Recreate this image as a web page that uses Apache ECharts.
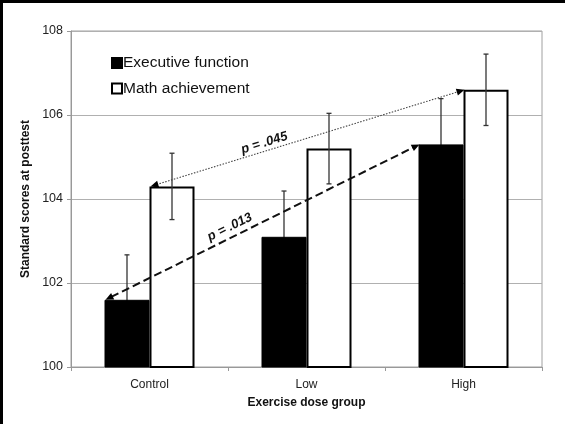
<!DOCTYPE html>
<html>
<head>
<meta charset="utf-8">
<script src="https://cdn.jsdelivr.net/npm/echarts@6/dist/echarts.min.js"></script>
<style>
html,body{margin:0;padding:0;background:#fff;}
#frame{position:absolute;left:0;top:0;width:565px;height:424px;box-sizing:border-box;border-left:3px solid #000;border-top:3px solid #000;}
#chart{position:absolute;left:0;top:0;width:565px;height:424px;}
</style>
</head>
<body>
<div id="chart"></div>
<div id="frame"></div>
<script>
// ---- data ----
const categories = ['Control', 'Low', 'High'];
const execValues = [101.6, 103.1, 105.3];
const mathValues = [104.3, 105.2, 106.6];
const execErr = [1.07, 1.09, 1.09];
const mathErr = [0.79, 0.84, 0.85];
const seriesNames = ['Executive function', 'Math achievement'];
const yMin = 100, yMax = 108, yInterval = 2;
const pLabels = ['p = .013', 'p = .045'];

// ---- style constants ----
const BAR_W = 45;
const FONT = 'Liberation Sans, Arial, sans-serif';

const chart = echarts.init(document.getElementById('chart'), null, {renderer: 'canvas'});

function errData(vals, errs) {
  return vals.map((v, i) => [i, v, errs[i]]);
}

function errRender(offset) {
  return function (params, api) {
    const i = api.value(0), v = api.value(1), e = api.value(2);
    const top = api.coord([i, v + e]);
    const bot = api.coord([i, v - e]);
    const x = top[0] + offset;
    const cap = 2.5;
    const st = {stroke: '#333', lineWidth: 1.3};
    return {
      type: 'group',
      children: [
        {type: 'line', shape: {x1: x, y1: top[1], x2: x, y2: bot[1]}, style: st},
        {type: 'line', shape: {x1: x - cap, y1: top[1], x2: x + cap, y2: top[1]}, style: st},
        {type: 'line', shape: {x1: x - cap, y1: bot[1], x2: x + cap, y2: bot[1]}, style: st}
      ]
    };
  };
}

// arrows: [startCat, startVal, endCat, endVal, barOffsetKind(0 exec,1 math), labelIndex]
const arrowData = [
  [0, execValues[0], 2, execValues[2], 0, 0],
  [0, mathValues[0], 2, mathValues[2], 1, 1]
];

function arrowRender(params, api) {
  const kind = api.value(4);
  const off = kind === 0 ? -BAR_W : 0;
  const p1 = api.coord([api.value(0), api.value(1)]);
  const p2 = api.coord([api.value(2), api.value(3)]);
  p1[0] += off + 1; p2[0] += off + 1;
  const dx = p2[0] - p1[0], dy = p2[1] - p1[1];
  const len = Math.sqrt(dx * dx + dy * dy);
  const ux = dx / len, uy = dy / len;
  const nx = uy, ny = -ux; // upward normal
  const L = 8, W = 3.5;
  function head(tip, dirx, diry) {
    return {
      type: 'polygon',
      shape: {points: [
        [tip[0], tip[1]],
        [tip[0] - L * dirx + W * diry, tip[1] - L * diry - W * dirx],
        [tip[0] - L * dirx - W * diry, tip[1] - L * diry + W * dirx]
      ]},
      style: {fill: '#000'}
    };
  }
  const lineStyle = kind === 0
    ? {stroke: '#111', lineWidth: 2, lineDash: [8, 4]}
    : {stroke: '#444', lineWidth: 1.1, lineDash: [1.5, 1.5]};
  const t = kind === 0 ? 0.41 : 0.37;
  const dOff = kind === 0 ? 10 : 8;
  const tx = p1[0] + t * dx + nx * dOff;
  const ty = p1[1] + t * dy + ny * dOff;
  return {
    type: 'group',
    children: [
      {type: 'line', shape: {x1: p1[0] + L * ux * 0.8, y1: p1[1] + L * uy * 0.8, x2: p2[0] - L * ux * 0.8, y2: p2[1] - L * uy * 0.8}, style: lineStyle},
      head(p2, ux, uy),
      head(p1, -ux, -uy),
      {type: 'text', x: tx, y: ty, rotation: Math.atan2(-dy, dx),
       style: {text: pLabels[api.value(5)], align: 'center', verticalAlign: 'middle',
               font: 'italic bold 13px ' + FONT, fill: '#111'}}
    ]
  };
}

const option = {
  animation: false,
  backgroundColor: '#fff',
  grid: {left: 71, right: 23, top: 31, bottom: 57, show: true, borderColor: '#a0a0a0', borderWidth: 1},
  legend: {
    orient: 'vertical', left: 106, top: 50,
    itemWidth: 10, itemHeight: 10, itemGap: 9.5,
    icon: 'rect',
    textStyle: {fontFamily: FONT, fontSize: 15.5, color: '#111', padding: [0, 0, 0, -4], lineHeight: 15},
    data: seriesNames
  },
  xAxis: {
    type: 'category', data: categories,
    axisLine: {lineStyle: {color: '#999', width: 1}},
    axisTick: {show: true, length: 4, lineStyle: {color: '#999'}},
    axisLabel: {fontFamily: FONT, fontSize: 12, color: '#222', margin: 12},
    name: 'Exercise dose group', nameLocation: 'middle', nameGap: 30,
    nameTextStyle: {fontFamily: FONT, fontSize: 12, fontWeight: 'bold', color: '#111'}
  },
  yAxis: {
    type: 'value', min: yMin, max: yMax, interval: yInterval,
    axisLine: {show: true, lineStyle: {color: '#999', width: 1}},
    axisTick: {show: true, length: 4, lineStyle: {color: '#999'}},
    splitLine: {lineStyle: {color: '#b0b0b0', width: 1}},
    axisLabel: {fontFamily: FONT, fontSize: 12.5, color: '#222', margin: 8},
    name: 'Standard scores at posttest', nameLocation: 'middle', nameGap: 34,
    nameTextStyle: {fontFamily: FONT, fontSize: 12, fontWeight: 'bold', color: '#111'}
  },
  series: [
    {type: 'custom', data: errData(execValues, execErr), renderItem: errRender(-BAR_W / 2), z: 1, silent: true},
    {name: seriesNames[0], type: 'bar', data: execValues, barWidth: BAR_W, barGap: '0%',
     itemStyle: {color: '#000', borderColor: '#000', borderWidth: 1}, z: 2},
    {name: seriesNames[1], type: 'bar', data: mathValues, barWidth: BAR_W, barGap: '0%',
     itemStyle: {color: '#fff', borderColor: '#000', borderWidth: 2}, z: 2},
    {type: 'custom', data: errData(mathValues, mathErr), renderItem: errRender(BAR_W / 2), z: 3, silent: true},
    {type: 'custom', data: arrowData, renderItem: arrowRender, z: 4, silent: true,
     encode: {x: 0, y: 1}}
  ]
};
chart.setOption(option);
</script>
</body>
</html>
